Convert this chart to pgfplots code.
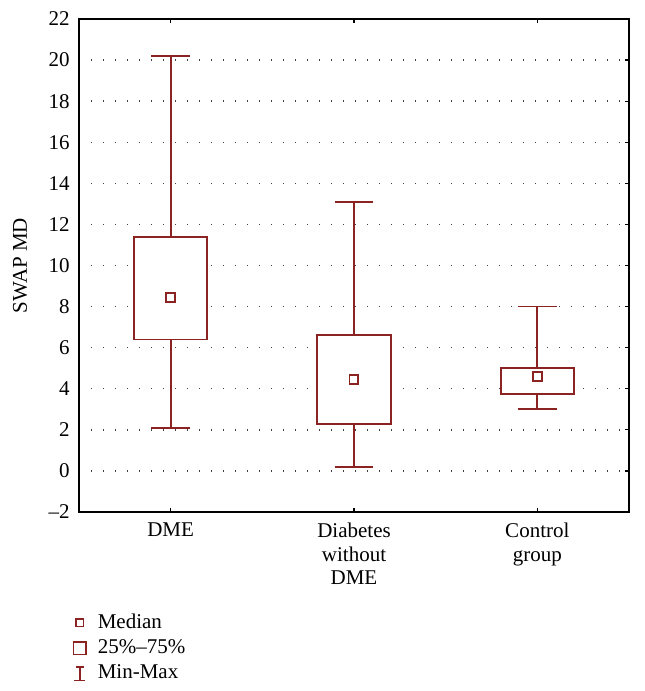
\documentclass[border=0pt]{standalone}
\usepackage{fontspec}
\setmainfont{Liberation Serif}
\usepackage{pgfplots}
\pgfplotsset{compat=1.18}
\usepgfplotslibrary{statistics}
\definecolor{boxred}{RGB}{139,35,35}
\begin{document}
\fontsize{10.5}{12}\selectfont
\begin{tikzpicture}
\path[use as bounding box] (0,0) rectangle (322pt,345.5pt);
\begin{axis}[
  at={(39.5pt,89.5pt)}, anchor=south west,
  scale only axis, width=275pt, height=246.5pt,
  xmin=-0.5, xmax=2.5, ymin=-2, ymax=22,
  ytick={-2,0,2,4,6,8,10,12,14,16,18,20,22},
  yticklabels={--2,0,2,4,6,8,10,12,14,16,18,20,22},
  xtick={0,1,2},
  xticklabels={DME, Diabetes\\without\\DME, Control\\group},
  xticklabel style={align=center, font=\fontsize{10.5}{11.75}\selectfont, yshift=-1.8pt},
  yticklabel style={font=\fontsize{10.5}{12}\selectfont, xshift=-1pt},
  ytick pos=right, yticklabel pos=left,
  xtick pos=both, xticklabel pos=bottom,
  tick align=inside,
  major tick length=2pt,
  tick style={black, line width=0.6pt},
  axis line style={black, line width=0.7pt},
  ymajorgrids,
  major grid style={black!75, line width=0.7pt, dash pattern=on 0.7pt off 5.3pt},
  ylabel={SWAP MD},
  every axis y label/.style={at={(axis description cs:-0.107,0.5)}, rotate=90, anchor=center, font=\fontsize{10.5}{12}\selectfont},
  boxplot/draw direction=y,
  boxplot/draw/median/.code={},
  legend style={at={(axis description cs:-0.012,-0.2)}, anchor=north west, draw=none, fill=none,
    font=\fontsize{10.5}{12}\selectfont, row sep=1pt, inner sep=0pt,
    nodes={inner sep=1.5pt},
    /tikz/every odd column/.append style={column sep=4pt}},
  legend cell align=left,
]
\addplot[forget plot, boxred, line width=0.85pt, fill=white,
  boxplot prepared={draw position=0, lower whisker=2.1, lower quartile=6.4,
    median=8.45, upper quartile=11.4, upper whisker=20.2,
    box extend=0.4, whisker extend=0.21}] coordinates {};
\addplot[forget plot, boxred, line width=0.85pt, fill=white,
  boxplot prepared={draw position=1, lower whisker=0.2, lower quartile=2.3,
    median=4.45, upper quartile=6.6, upper whisker=13.1,
    box extend=0.4, whisker extend=0.21}] coordinates {};
\addplot[forget plot, boxred, line width=0.85pt, fill=white,
  boxplot prepared={draw position=2, lower whisker=3.0, lower quartile=3.75,
    median=4.6, upper quartile=5.0, upper whisker=8.0,
    box extend=0.4, whisker extend=0.21}] coordinates {};
\addplot[forget plot, only marks, mark=square, mark size=2.2pt, boxred,
  mark options={line width=0.9pt, fill=white}]
  coordinates {(0,8.45) (1,4.45) (2,4.6)};
\addlegendimage{legend image code/.code={\draw[boxred, line width=0.8pt, fill=white] (1.2pt,-1.9pt) rectangle (5pt,1.9pt);}}
\addlegendentry{Median}
\addlegendimage{legend image code/.code={\draw[boxred, line width=0.8pt] (0pt,-3.2pt) rectangle (6.2pt,3.2pt);}}
\addlegendentry{25\%--75\%}
\addlegendimage{legend image code/.code={\draw[boxred, line width=0.8pt] (0.4pt,-3.5pt)--(5.8pt,-3.5pt) (3.1pt,-3.5pt)--(3.1pt,3.3pt) (1.2pt,3.3pt)--(5pt,3.3pt);}}
\addlegendentry{Min-Max}
\end{axis}
\end{tikzpicture}
\end{document}
